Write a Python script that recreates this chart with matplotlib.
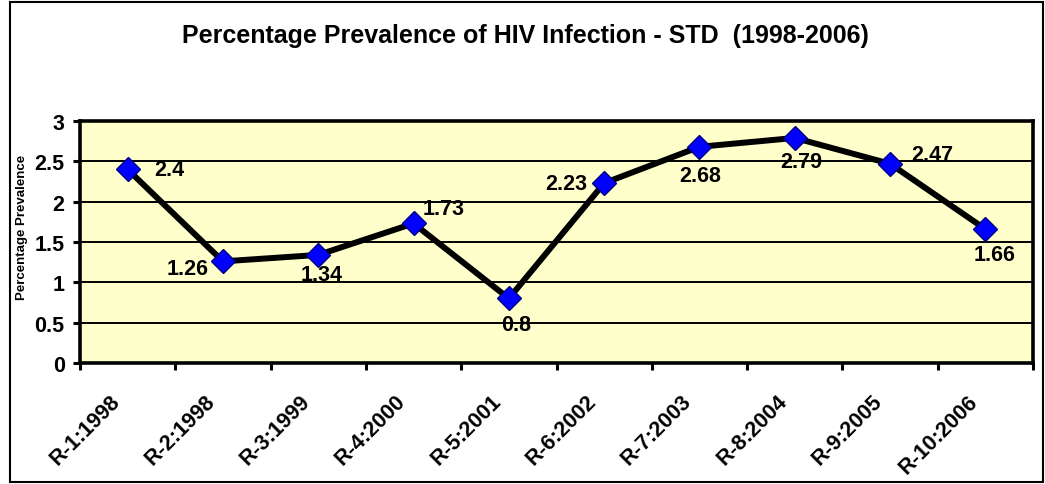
import matplotlib
matplotlib.use("Agg")
import matplotlib.pyplot as plt
import matplotlib.transforms as mtransforms
from matplotlib.patches import Rectangle

# data
rounds = ["R-1:1998", "R-2:1998", "R-3:1999", "R-4:2000", "R-5:2001",
          "R-6:2002", "R-7:2003", "R-8:2004", "R-9:2005", "R-10:2006"]
prevalence = [2.4, 1.26, 1.34, 1.73, 0.8, 2.23, 2.68, 2.79, 2.47, 1.66]

# where each value label sits relative to its point (pixels, right / down)
label_dx = [42, -35, 3, 30, 7, -38, 1, 6, 42, 9]
label_dy = [0, 7, 20, -15, 26, 0, 29, 24, -9, 25]

W, H = 1045, 485
plt.rcParams['font.family'] = ['Liberation Sans', 'DejaVu Sans']
plt.rcParams['font.weight'] = 'bold'
fs = 15.5

fig = plt.figure(figsize=(W / 100, H / 100), dpi=100)
# plot area in pixels: x 80..1033, y 122..364
ax = fig.add_axes([80 / W, 1 - 364 / H, (1033 - 80) / W, (364 - 122) / H])
ax.set_facecolor('#FFFFCC')

x = [i + 0.5 for i in range(len(rounds))]
ax.set_xlim(0, len(rounds))
ax.set_ylim(0, 3)

ax.set_yticks([0, 0.5, 1, 1.5, 2, 2.5, 3])
ax.set_yticklabels(['0', '0.5', '1', '1.5', '2', '2.5', '3'], fontsize=fs, fontweight='bold')
ax.grid(axis='y', color='black', lw=1.4, zorder=1)
ax.set_axisbelow(True)

ax.plot(x, prevalence, color='black', lw=4.3, zorder=3,
        marker='D', markersize=12.5, markerfacecolor='#0000FF',
        markeredgecolor='#000080', markeredgewidth=1.0)

for xi, v, dx, dy in zip(x, prevalence, label_dx, label_dy):
    ax.annotate(f"{v:g}", (xi, v), xytext=(dx * 0.72, -dy * 0.72),
                textcoords='offset points', ha='center', va='center',
                fontsize=fs, fontweight='bold', zorder=4)

# category labels between boundary ticks
ax.set_xticks(x)
ax.set_xticks(range(len(rounds) + 1), minor=True)
ax.set_xticklabels(rounds, rotation=45, ha='right', va='center',
                   rotation_mode='anchor', fontsize=fs, fontweight='bold')
ax.tick_params(axis='x', which='major', length=0, pad=25)
ax.tick_params(axis='x', which='minor', length=5, width=2.2, direction='out')
ax.tick_params(axis='y', length=5, width=2.2, direction='out', pad=6)
shift = mtransforms.ScaledTranslation(-11 / 100, 0, fig.dpi_scale_trans)
for lab in ax.get_xticklabels():
    lab.set_transform(lab.get_transform() + shift)

for s in ax.spines.values():
    s.set_linewidth(2.6)
    s.set_color('black')

fig.text(525 / W, 1 - 36 / H, "Percentage Prevalence of HIV Infection - STD  (1998-2006)",
         ha='center', va='center', fontsize=18, fontweight='bold')
fig.text(22 / W, 1 - 227 / H, "Percentage Prevalence", rotation=90,
         ha='center', va='center', fontsize=9.5, fontweight='bold')

# outer chart border
fig.patches.append(Rectangle((10 / W, 2 / H), (1043 - 10) / W, (483 - 3) / H,
                             transform=fig.transFigure, fill=False,
                             edgecolor='black', lw=1.5))

fig.savefig("out.png", dpi=100)
